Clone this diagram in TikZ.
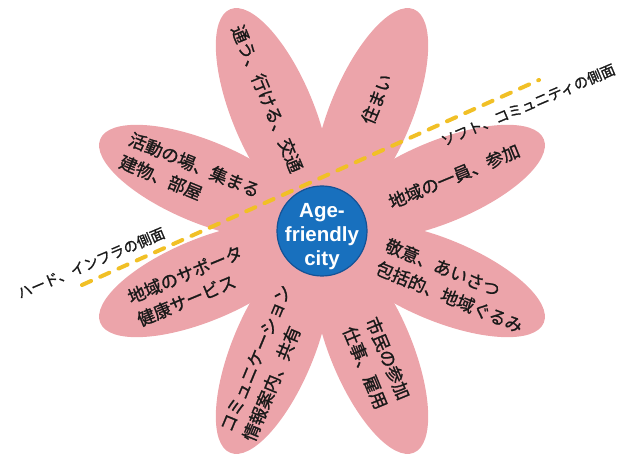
\documentclass[tikz,border=0pt]{standalone}
\usepackage{fontspec}
\setmainfont{Liberation Sans}
\newfontfamily\jp[FakeBold=1.2]{Noto Sans CJK JP}
\usetikzlibrary{calc}
\definecolor{petalpink}{RGB}{236,164,170}
\definecolor{cityblue}{RGB}{24,112,190}
\definecolor{cityedge}{RGB}{20,82,150}
\definecolor{dashgold}{RGB}{241,192,38}
\begin{document}
\begin{tikzpicture}[x=1pt,y=1pt,
  petal/.style={fill=petalpink},
  ptext/.style={font=\jp\fontsize{17.5}{24.5}\selectfont, text=black!90, align=left, inner sep=0pt},
  sidetext/.style={font=\jp\fontsize{14.5}{16}\selectfont, text=black!90, inner sep=0pt, rotate=23},
  divider/.style={draw=dashgold, line width=4pt, dash pattern=on 10pt off 10pt, line cap=round},
  hub/.style={circle, fill=cityblue, draw=cityedge, line width=1.2pt, minimum size=90pt, inner sep=0pt},
  hubtext/.style={text=white, font=\bfseries\fontsize{20.5}{24}\selectfont, align=center, inner sep=0pt}]
\useasboundingbox (0,0) rectangle (618,454);
\coordinate (c) at (322,223);
% petals
\foreach \a in {22.5,67.5,112.5,157.5,202.5,247.5,292.5,337.5}
  \fill[petal] (c) ++(\a:128) ellipse [x radius=112, y radius=41, rotate=\a];
% dividing dashed line
\coordinate (hl) at (82,169);
\coordinate (hr) at (539,374);
\draw[divider] (hl) -- (hr);
% centre
\node[hub] (hub) at (c) {};
\node[hubtext] (hubtxt) at ($(hub.center)+(0,-5.5)$) {Age-\\friendly\\city};
% petal texts
\node[ptext, rotate=-67.5] (t1) at ($(c)+(112.5:143)$) {通う、行ける、交通};
\node[ptext, rotate=67.5]  (t2) at ($(c)+(67.5:143)$) {住まい};
\node[ptext, rotate=22.5]  (t3) at ($(c)+(22.5:143)$) {地域の一員、参加};
\node[ptext, rotate=-22.5] (t4) at ($(c)+(-22.5:143)$) {敬意、あいさつ\\包括的、地域ぐるみ};
\node[ptext, rotate=-67.5] (t5) at ($(c)+(-67.5:143)$) {市民の参加\\仕事、雇用};
\node[ptext, rotate=67.5]  (t6) at ($(c)+(-112.5:143)$) {コミュニケーション\\情報案内、共有};
\node[ptext, rotate=22.5]  (t7) at ($(c)+(-157.5:143)$) {地域のサポータ\\健康サービス};
\node[ptext, rotate=-22.5] (t8) at ($(c)+(157.5:143)$) {活動の場、集まる\\建物、部屋};
% side labels
\node[sidetext] (hard) at (91,191) {ハード、インフラの側面};
\node[sidetext] (soft) at (528,349) {ソフト、コミュニティの側面};
\end{tikzpicture}
\end{document}
